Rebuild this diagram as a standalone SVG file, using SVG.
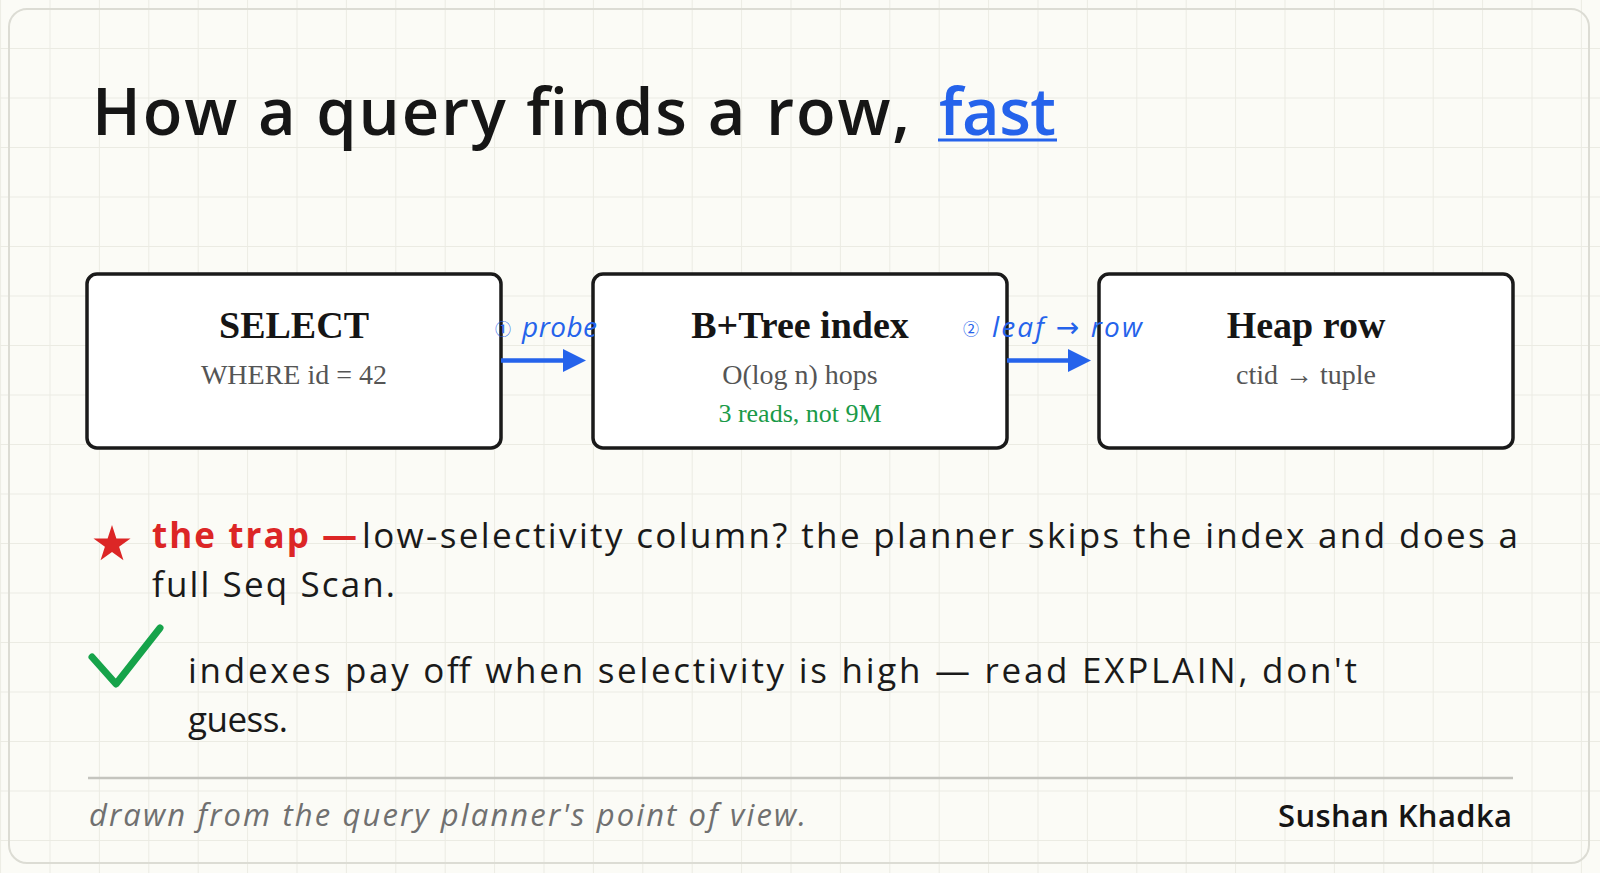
<svg xmlns="http://www.w3.org/2000/svg" width="1600" height="873" viewBox="0 0 1600 873">
<style>
.hand{font-family:"Open Sans","Noto Sans","DejaVu Sans",sans-serif}
.title{font-size:65px;font-weight:600;fill:#161616}
.box{fill:#fff;stroke:#1a1a1a;stroke-width:3.5}
.h{font-family:"Liberation Serif","Times New Roman",serif;font-weight:700;font-size:38px;fill:#151515;text-anchor:middle}
.sub{font-family:"Liberation Serif","Times New Roman","DejaVu Serif",serif;font-size:28px;fill:#555;text-anchor:middle}
.note{font-family:"Liberation Serif","Times New Roman",serif;font-size:26px;fill:#1a9a48;text-anchor:middle}
.conn{stroke:#2563eb;stroke-width:4.5;fill:none}
.lbl{font-size:28px;font-style:italic;fill:#2563eb}
.num{font-family:"Noto Sans CJK SC","DejaVu Sans",sans-serif;font-size:16px;fill:#2563eb}
.body{font-size:35px;fill:#1a1a1a}
.red{fill:#dc2626;font-weight:700}
.foot{font-size:31px;font-style:italic;fill:#707070}
.sig{font-size:31px;font-weight:600;fill:#151515}
</style>
<defs>
<pattern id="grid" patternUnits="userSpaceOnUse" x="0.1" y="-1.5" width="49.4" height="49.5">
<path d="M0 0.5H49.4M0.5 0V49.5" stroke="#ebebe3" stroke-width="1" fill="none"/>
</pattern>
<marker id="ah" markerUnits="userSpaceOnUse" markerWidth="24" markerHeight="24" refX="0" refY="12" orient="auto" viewBox="0 0 24 24">
<path d="M0 0.5L23 12L0 23.5Z" fill="#2563eb"/>
</marker>
</defs>

<rect width="1600" height="873" fill="#fbfbf6"/>
<rect width="1600" height="873" fill="url(#grid)"/>
<rect x="9" y="9" width="1580" height="854" rx="18" fill="none" stroke="#dcdcd4" stroke-width="2"/>

<g id="title">
<text x="92" y="135" class="hand title" textLength="818">How a query finds a row,</text>
<text x="939" y="135" class="hand title" style="fill:#2563eb" textLength="117">fast</text>
<line x1="938" y1="140" x2="1057" y2="140" stroke="#2563eb" stroke-width="3"/>
</g>

<g id="select">
<rect class="box" x="87" y="274" width="414" height="174" rx="10"/>
<text class="h" x="294" y="338">SELECT</text>
<text class="sub" x="294" y="384">WHERE id = 42</text>
</g>

<g id="btree">
<rect class="box" x="593" y="274" width="414" height="174" rx="10"/>
<text class="h" x="800" y="338">B+Tree index</text>
<text class="sub" x="800" y="384">O(log n) hops</text>
<text class="note" x="800" y="422">3 reads, not 9M</text>
</g>

<g id="heap">
<rect class="box" x="1099" y="274" width="414" height="174" rx="10"/>
<text class="h" x="1306" y="338">Heap row</text>
<text class="sub" x="1306" y="384">ctid → tuple</text>
</g>

<g id="connectors">
<line class="conn" x1="501" y1="360.5" x2="563" y2="360.5" marker-end="url(#ah)"/>
<text class="num" x="495" y="335">①</text>
<text class="hand lbl" x="522" y="337" textLength="75">probe</text>
<line class="conn" x1="1007" y1="360.5" x2="1068" y2="360.5" marker-end="url(#ah)"/>
<text class="num" x="963" y="335">②</text>
<text class="hand lbl" x="992" y="337" textLength="150">leaf → row</text>
</g>

<g id="trap">
<polygon points="112,525 116.38,538.47 130.55,538.47 119.09,546.8 123.46,560.28 112,551.95 100.54,560.28 104.91,546.8 93.45,538.47 107.62,538.47" fill="#dc2626"/>
<text class="hand body red" x="152" y="548" textLength="205">the trap —</text>
<text class="hand body" x="362" y="548" textLength="1156">low-selectivity column? the planner skips the index and does a</text>
<text class="hand body" x="152" y="597" textLength="243">full Seq Scan.</text>
</g>

<g id="tip">
<polyline points="92,657 116,684 160,628" fill="none" stroke="#16a34a" stroke-width="7" stroke-linecap="round" stroke-linejoin="round"/>
<text class="hand body" x="188" y="683" textLength="1169">indexes pay off when selectivity is high — read EXPLAIN, don't</text>
<text class="hand body" x="188" y="732" textLength="100">guess.</text>
</g>

<g id="footer">
<line x1="88" y1="778" x2="1513" y2="778" stroke="#c4c4be" stroke-width="2.5"/>
<text class="hand foot" x="89" y="826" textLength="717">drawn from the query planner's point of view.</text>
<text class="hand sig" x="1512" y="827" text-anchor="end" textLength="234">Sushan Khadka</text>
</g>
</svg>
